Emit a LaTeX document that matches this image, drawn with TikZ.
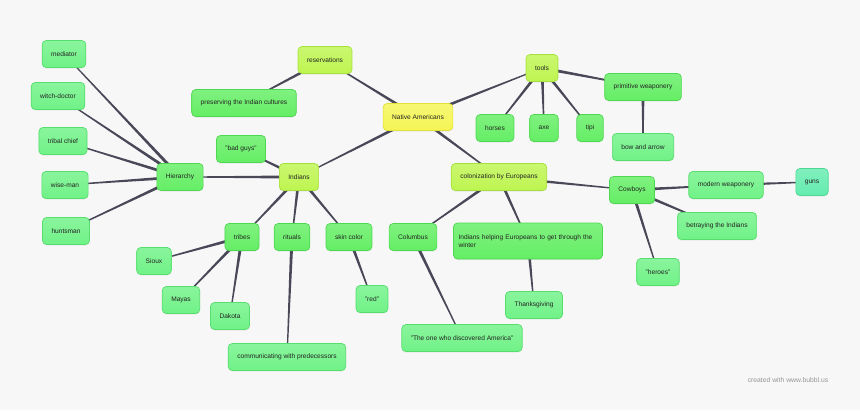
\documentclass[tikz,border=0pt]{standalone}
\usepackage{fontspec}
\setmainfont{Liberation Sans}
\usetikzlibrary{calc,shadows}

% colours of the levels
\definecolor{bgcol}{RGB}{247,247,247}
\definecolor{linkcol}{RGB}{72,72,88}
\definecolor{textcol}{RGB}{35,35,35}
\definecolor{creditcol}{RGB}{150,150,150}
\definecolor{rootfill}{RGB}{245,245,85}
\definecolor{rootline}{RGB}{225,225,55}
\definecolor{limefill}{RGB}{190,245,80}
\definecolor{limeline}{RGB}{165,225,60}
\definecolor{greenfill}{RGB}{100,238,100}
\definecolor{greenline}{RGB}{78,216,82}
\definecolor{mintfill}{RGB}{112,242,135}
\definecolor{mintline}{RGB}{86,222,110}
\definecolor{aquafill}{RGB}{100,236,175}
\definecolor{aqualine}{RGB}{78,216,150}

\pgfdeclarelayer{background}
\pgfsetlayers{background,main}

\tikzset{
    bubble/.style={rounded corners=4pt, draw=#1line, line width=0.7pt,
        top color=#1fill!82!white, bottom color=#1fill,
        drop shadow={shadow xshift=0pt, shadow yshift=-1pt, opacity=0.12},
        minimum height=27pt, inner xsep=9pt, text=textcol,
        font=\fontsize{6.6}{8.4}\selectfont},
    rootbox/.style={bubble=root},
    limebox/.style={bubble=lime},
    greenbox/.style={bubble=green},
    mintbox/.style={bubble=mint},
    aquabox/.style={bubble=aqua}
}

% tapered branch: wide at the parent, thin at the child
\newcommand{\taperlink}[2]{%
    \fill[linkcol] ($(#1.center)!1.6pt!90:(#2.center)$)
        -- ($(#2.center)!0.5pt!-90:(#1.center)$)
        -- ($(#2.center)!0.5pt!90:(#1.center)$)
        -- ($(#1.center)!1.6pt!-90:(#2.center)$) -- cycle;}

\begin{document}
\begin{tikzpicture}[x=1pt,y=-1pt]

\useasboundingbox (0,0) rectangle (860,410);

% Root
\node[rootbox] (native) at (418,117) {Native Americans};

% First level
\node[limebox] (reserv) at (325,60) {reservations};
\node[limebox] (indians) at (299,177) {Indians};
\node[limebox] (tools) at (542,68) {tools};
\node[limebox] (colon) at (499,177) {colonization by Europeans};

% Second level
\node[greenbox] (preserv) at (244,103) {preserving the Indian cultures};
\node[greenbox] (badguys) at (241,149) {"bad guys"};
\node[greenbox] (hier) at (180,177) {Hierarchy};
\node[greenbox] (tribes) at (242,237) {tribes};
\node[greenbox] (rituals) at (292,237) {rituals};
\node[greenbox] (skin) at (349,237) {skin color};
\node[greenbox] (horses) at (495,128) {horses};
\node[greenbox] (axe) at (544,128) {axe};
\node[greenbox] (tipi) at (590,128) {tipi};
\node[greenbox] (primw) at (643,87) {primitive weaponery};
\node[greenbox] (columbus) at (413,237) {Columbus};
\node[greenbox, text width=139pt, inner xsep=5pt, align=left, minimum height=36pt] (helping) at (528,241)
    {Indians helping Europeans to get through the\\winter};
\node[greenbox] (cowboys) at (632,190) {Cowboys};

% Third level
\node[mintbox] (mediator) at (64,54) {mediator};
\node[mintbox] (witch) at (58,96) {witch-doctor};
\node[mintbox] (chief) at (63,141) {tribal chief};
\node[mintbox] (wise) at (65,185) {wise-man};
\node[mintbox] (hunts) at (66,231) {huntsman};
\node[mintbox] (sioux) at (154,261) {Sioux};
\node[mintbox] (mayas) at (181,300) {Mayas};
\node[mintbox] (dakota) at (230,316) {Dakota};
\node[mintbox] (red) at (372,299) {"red"};
\node[mintbox] (commun) at (287,357) {communicating with predecessors};
\node[mintbox] (bow) at (643,147) {bow and arrow};
\node[mintbox] (thanks) at (534,305) {Thanksgiving};
\node[mintbox] (discov) at (462,338) {"The one who discovered America"};
\node[mintbox] (modern) at (726,185) {modern weaponery};
\node[mintbox] (betray) at (717,226) {betraying the Indians};
\node[mintbox] (heroes) at (658,272) {"heroes"};

% Fourth level
\node[aquabox] (guns) at (812,182) {guns};

% Credit line
\node[text=creditcol, font=\fontsize{6.8}{8}\selectfont] (credit) at (788,380) {created with www.bubbl.us};

\begin{pgfonlayer}{background}
\fill[bgcol] (0,0) rectangle (860,410);

% Branches
\taperlink{native}{reserv}
\taperlink{native}{indians}
\taperlink{native}{tools}
\taperlink{native}{colon}
\taperlink{reserv}{preserv}
\foreach \child in {badguys,hier,tribes,rituals,skin}
    {\taperlink{indians}{\child}}
\foreach \child in {mediator,witch,chief,wise,hunts}
    {\taperlink{hier}{\child}}
\foreach \child in {sioux,mayas,dakota}
    {\taperlink{tribes}{\child}}
\taperlink{rituals}{commun}
\taperlink{skin}{red}
\foreach \child in {horses,axe,tipi,primw}
    {\taperlink{tools}{\child}}
\taperlink{primw}{bow}
\foreach \child in {columbus,helping,cowboys}
    {\taperlink{colon}{\child}}
\taperlink{columbus}{discov}
\taperlink{helping}{thanks}
\foreach \child in {modern,betray,heroes}
    {\taperlink{cowboys}{\child}}
\taperlink{modern}{guns}
\end{pgfonlayer}

\end{tikzpicture}
\end{document}
